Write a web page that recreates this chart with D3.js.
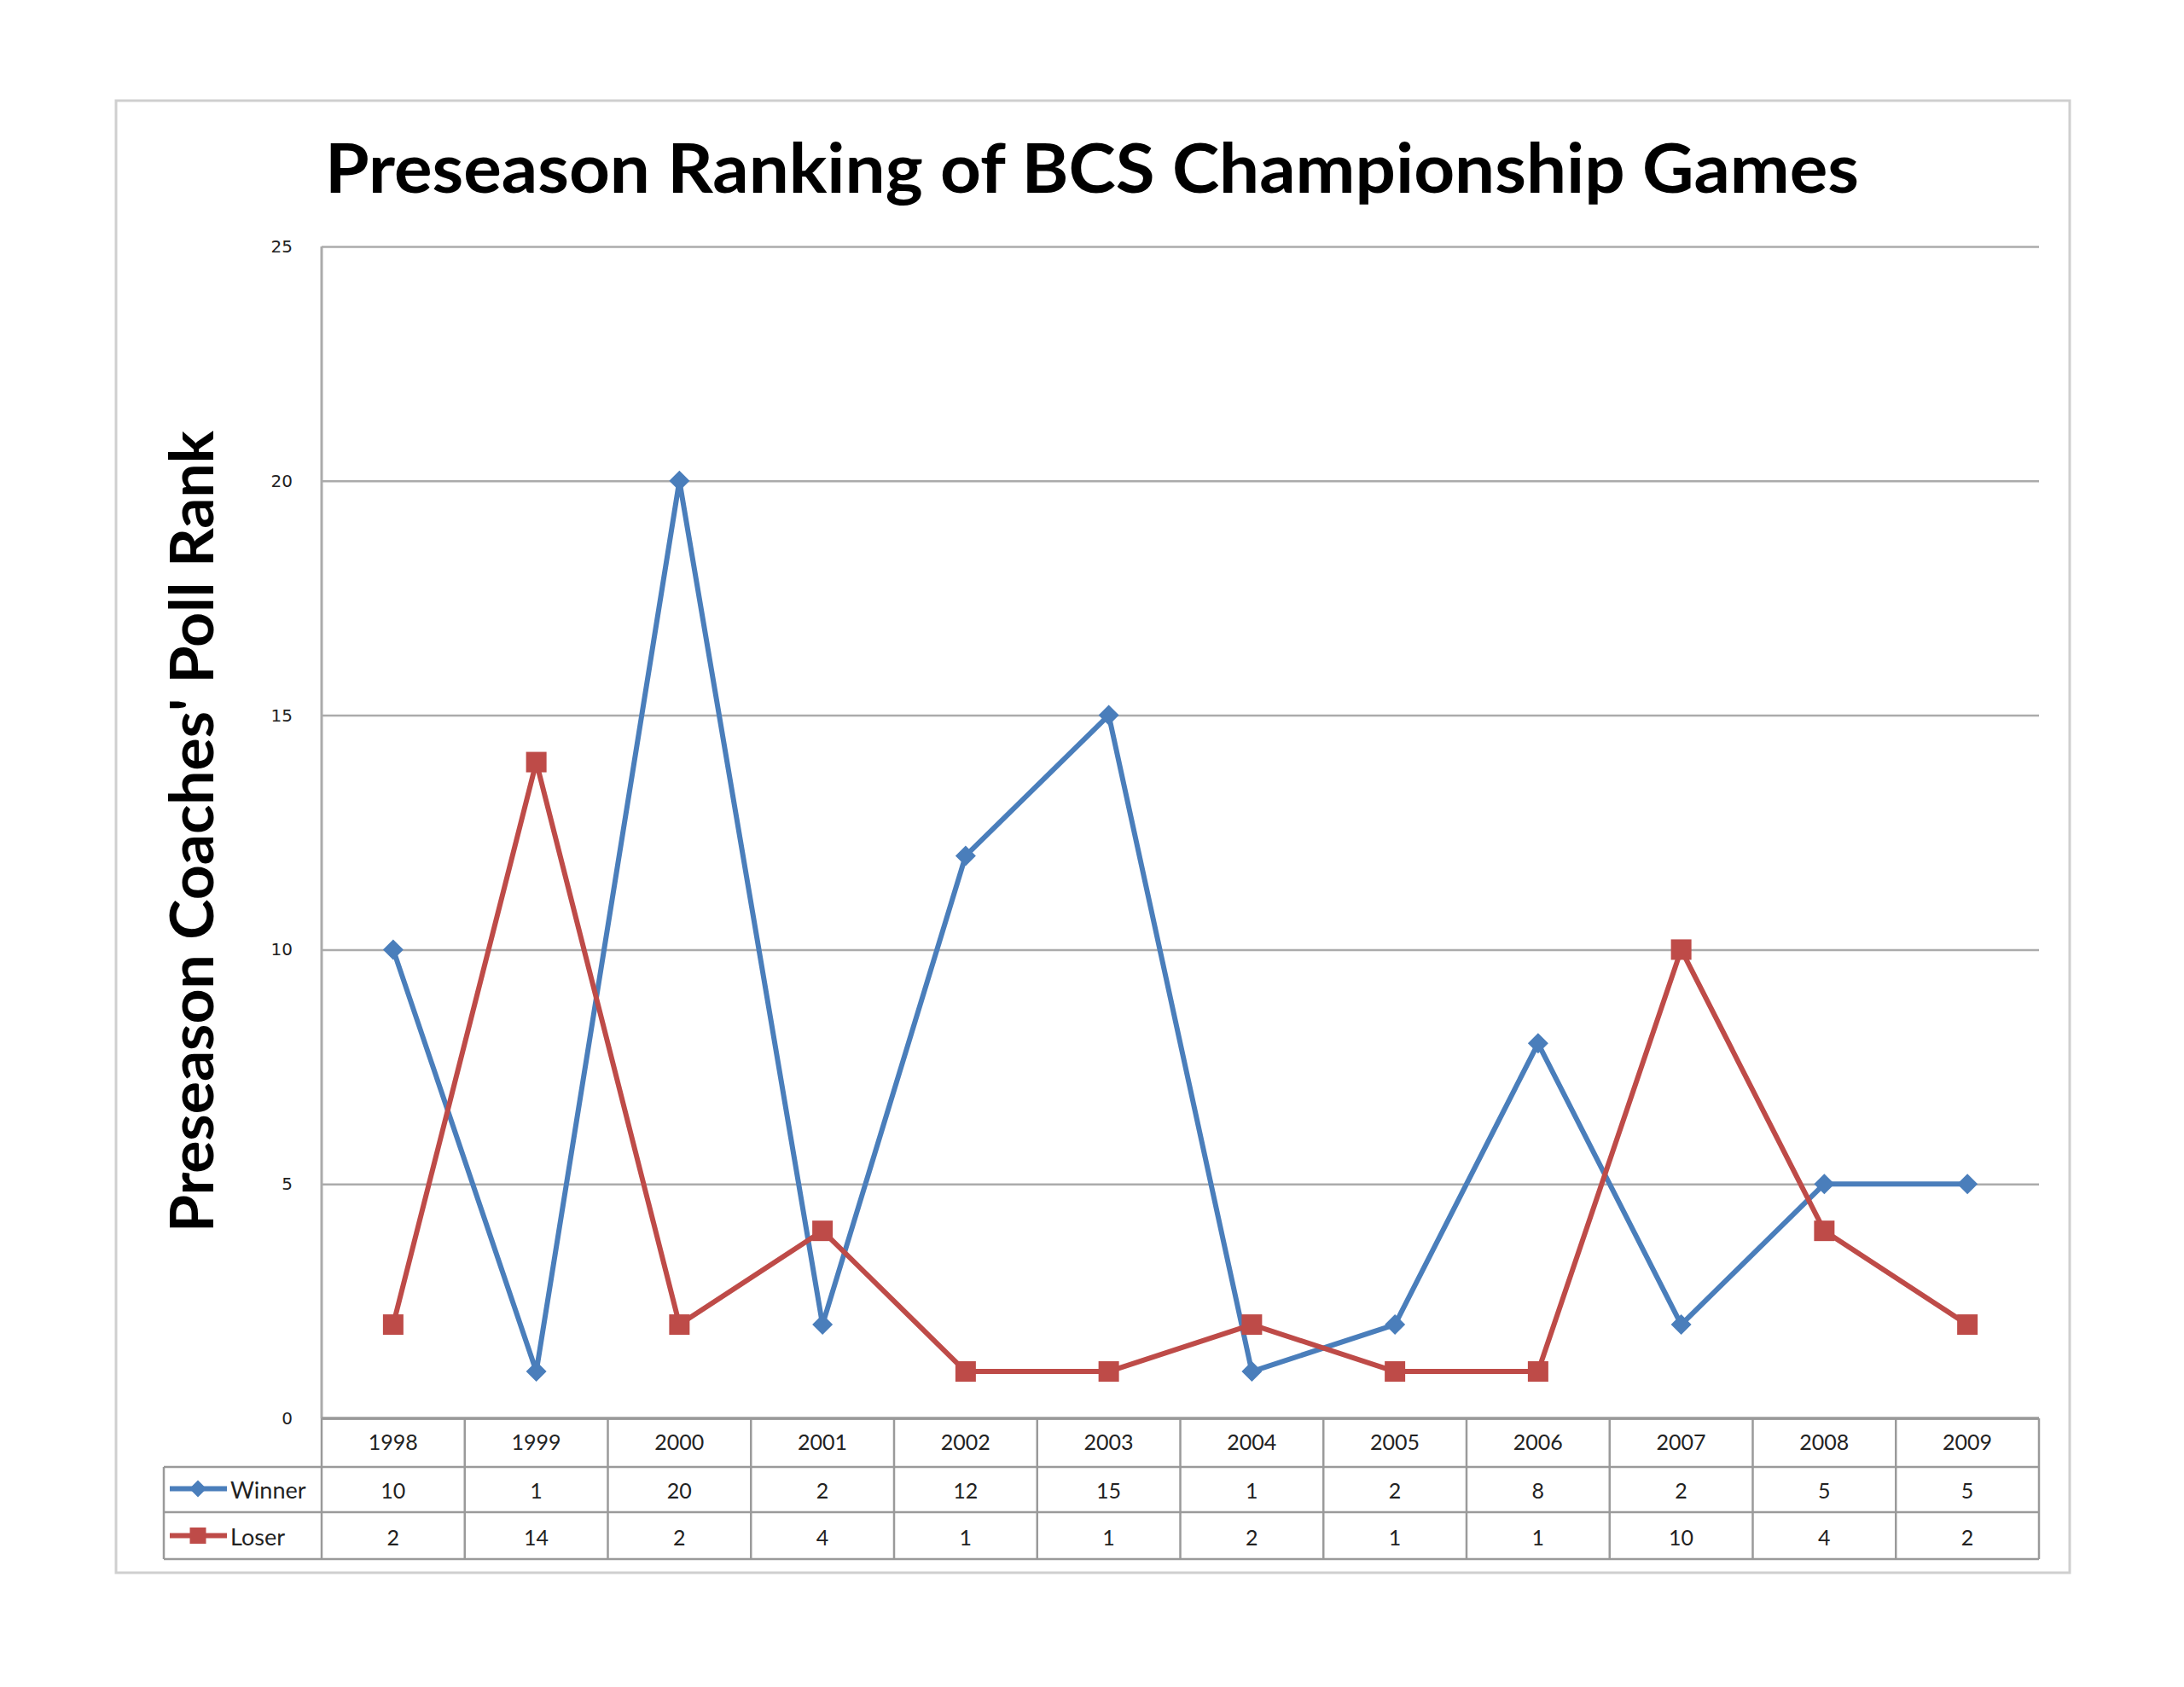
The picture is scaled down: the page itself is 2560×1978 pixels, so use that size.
<!DOCTYPE html>
<html>
<head>
<meta charset="utf-8">
<script src="https://cdn.jsdelivr.net/npm/d3@7"></script>
<style>
  body { margin: 0; background: #fff; }
  svg { display: block; }
</style>
</head>
<body>
<div id="chart"></div>
<script>
// data
var years = ["1998", "1999", "2000", "2001", "2002", "2003", "2004", "2005", "2006", "2007", "2008", "2009"];
var winner = [10, 1, 20, 2, 12, 15, 1, 2, 8, 2, 5, 5];
var loser = [2, 14, 2, 4, 1, 1, 2, 1, 1, 10, 4, 2];
var yTicks = [0, 5, 10, 15, 20, 25];

var series = [
  {name: "Winner", values: winner, color: "#4A7EBB", marker: "diamond"},
  {name: "Loser", values: loser, color: "#BE4B48", marker: "square"}
];

var W = 2560, H = 1978;
var margin = {left: 377, top: 289, right: 2560 - 2390, bottom: 1978 - 1663};
var plotW = W - margin.left - margin.right;
var plotH = H - margin.top - margin.bottom;
var rowH = 55;
var gridColor = "#ABABAB";

var svg = d3.select("#chart")
  .append("svg")
  .attr("width", W)
  .attr("height", H);

// outer chart border
svg.append("rect")
  .attr("x", 136).attr("y", 118)
  .attr("width", 2290).attr("height", 1726)
  .attr("fill", "#fff")
  .attr("stroke", "#CFCFCF")
  .attr("stroke-width", 3);

svg.append("text")
  .attr("x", 1280).attr("y", 226)
  .attr("text-anchor", "middle")
  .attr("font-family", "Lato, 'Open Sans', sans-serif")
  .attr("font-weight", "bold")
  .attr("font-size", 80)
  .attr("textLength", 1798)
  .attr("lengthAdjust", "spacingAndGlyphs")
  .text("Preseason Ranking of BCS Championship Games");

var g = svg.append("g")
  .attr("transform", "translate(" + margin.left + "," + margin.top + ")");

var x = d3.scaleBand()
  .domain(years)
  .range([0, plotW]);

var y = d3.scaleLinear()
  .domain([0, 25])
  .range([plotH, 0]);

// y axis with gridlines
var yAxis = g.append("g")
  .call(d3.axisLeft(y)
    .tickValues(yTicks)
    .tickSize(-plotW)
    .tickPadding(34));
yAxis.select(".domain").remove();
yAxis.selectAll(".tick line")
  .attr("stroke", gridColor)
  .attr("stroke-width", 2.5);
yAxis.selectAll(".tick text")
  .attr("font-family", "'DejaVu Sans', Verdana, sans-serif")
  .attr("font-size", 20)
  .attr("fill", "#222");

// left axis line
g.append("line")
  .attr("x1", 0).attr("x2", 0)
  .attr("y1", 0).attr("y2", plotH)
  .attr("stroke", gridColor)
  .attr("stroke-width", 3);

svg.append("text")
  .attr("transform", "translate(250,975) rotate(-90)")
  .attr("text-anchor", "middle")
  .attr("font-family", "Lato, 'Open Sans', sans-serif")
  .attr("font-weight", "bold")
  .attr("font-size", 70)
  .attr("textLength", 940)
  .attr("lengthAdjust", "spacingAndGlyphs")
  .text("Preseason Coaches' Poll Rank");

// marker shapes: s is the full width of the marker
var diamond = {
  draw: function(ctx, size) {
    var r = Math.sqrt(size / 2);
    ctx.moveTo(0, -r);
    ctx.lineTo(r, 0);
    ctx.lineTo(0, r);
    ctx.lineTo(-r, 0);
    ctx.closePath();
  }
};
function markerPath(type, s) {
  if (type === "diamond") return d3.symbol().type(diamond).size(s * s / 2)();
  return d3.symbol().type(d3.symbolSquare).size(s * s)();
}

var cx = function(i) { return x(years[i]) + x.bandwidth() / 2; };

var line = d3.line()
  .x(function(d, i) { return cx(i); })
  .y(function(d) { return y(d); });

series.forEach(function(s) {
  g.append("path")
    .attr("d", line(s.values))
    .attr("fill", "none")
    .attr("stroke", s.color)
    .attr("stroke-width", 6)
    .attr("stroke-linejoin", "round");
});

series.forEach(function(s) {
  g.selectAll(".m-" + s.name)
    .data(s.values)
    .enter()
    .append("path")
    .attr("transform", function(d, i) { return "translate(" + cx(i) + "," + y(d) + ")"; })
    .attr("d", s.marker === "diamond" ? markerPath("diamond", 24) : markerPath("square", 24))
    .attr("fill", s.color);
});

// data table below the plot
var table = g.append("g")
  .attr("transform", "translate(0," + plotH + ")");
var tableLeft = 192 - margin.left;
var tColor = "#9A9A9A";

// horizontal rules
table.append("line")
  .attr("x1", 0).attr("x2", plotW).attr("y1", 0).attr("y2", 0)
  .attr("stroke", tColor).attr("stroke-width", 3.5);
[1, 2, 3].forEach(function(r) {
  table.append("line")
    .attr("x1", tableLeft).attr("x2", plotW)
    .attr("y1", r * rowH + (r === 1 ? 2 : 0)).attr("y2", r * rowH + (r === 1 ? 2 : 0))
    .attr("stroke", tColor).attr("stroke-width", 2.5);
});

// vertical rules
years.forEach(function(yr, i) {
  table.append("line")
    .attr("x1", x(yr)).attr("x2", x(yr))
    .attr("y1", 0).attr("y2", 3 * rowH)
    .attr("stroke", tColor).attr("stroke-width", 2.5);
});
table.append("line")
  .attr("x1", plotW).attr("x2", plotW)
  .attr("y1", 0).attr("y2", 3 * rowH)
  .attr("stroke", tColor).attr("stroke-width", 2.5);
table.append("line")
  .attr("x1", tableLeft).attr("x2", tableLeft)
  .attr("y1", rowH + 2).attr("y2", 3 * rowH)
  .attr("stroke", tColor).attr("stroke-width", 2.5);

var cellFont = "Lato, 'Open Sans', sans-serif";

table.selectAll(".year")
  .data(years)
  .enter()
  .append("text")
  .attr("x", function(d) { return x(d) + x.bandwidth() / 2; })
  .attr("y", 37)
  .attr("text-anchor", "middle")
  .attr("font-family", cellFont)
  .attr("font-size", 25)
  .attr("fill", "#222")
  .text(function(d) { return d; });

series.forEach(function(s, r) {
  var rowY = (r + 1) * rowH + 2;
  table.selectAll(".v-" + s.name)
    .data(s.values)
    .enter()
    .append("text")
    .attr("x", function(d, i) { return cx(i); })
    .attr("y", rowY + 37)
    .attr("text-anchor", "middle")
    .attr("font-family", cellFont)
    .attr("font-size", 25)
    .attr("fill", "#222")
    .text(function(d) { return d; });

  // legend key
  var ly = rowY + rowH / 2 - 2;
  table.append("line")
    .attr("x1", tableLeft + 7).attr("x2", tableLeft + 74)
    .attr("y1", ly).attr("y2", ly)
    .attr("stroke", s.color).attr("stroke-width", 6);
  table.append("path")
    .attr("transform", "translate(" + (tableLeft + 40) + "," + ly + ")")
    .attr("d", markerPath(s.marker, s.marker === "diamond" ? 20 : 19))
    .attr("fill", s.color);
  table.append("text")
    .attr("x", tableLeft + 78)
    .attr("y", rowY + 37)
    .attr("font-family", cellFont)
    .attr("font-size", 27)
    .attr("fill", "#222")
    .text(s.name);
});
</script>
</body>
</html>
